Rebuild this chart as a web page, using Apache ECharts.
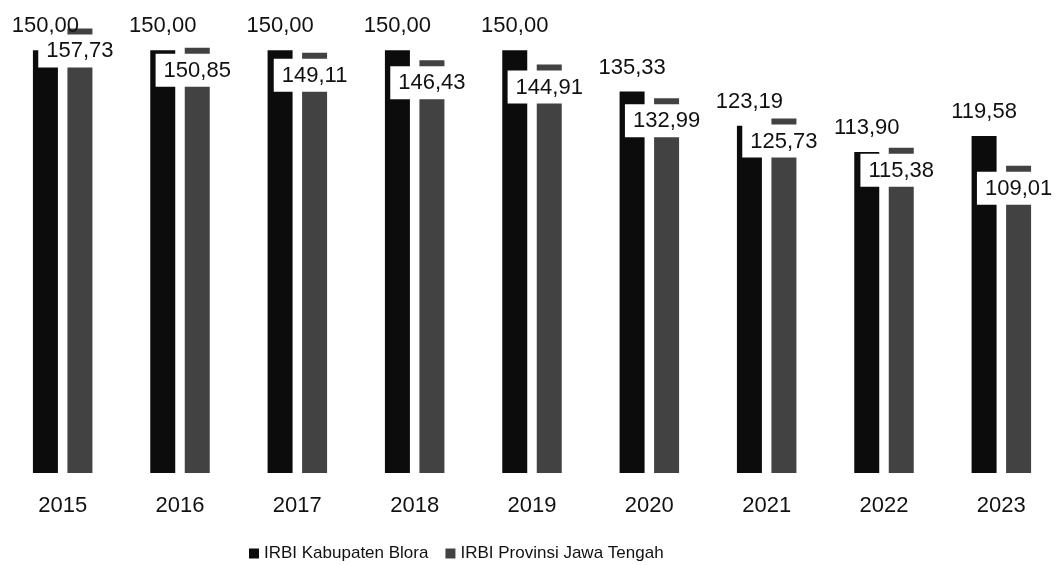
<!DOCTYPE html>
<html><head><meta charset="utf-8">
<script src="https://cdn.jsdelivr.net/npm/echarts@6/dist/echarts.min.js"></script>
<style>html,body{margin:0;padding:0;background:#fff}#c{width:1060px;height:565px}</style>
</head><body><div id="c"></div>
<script>
var categories = ['2015','2016','2017','2018','2019','2020','2021','2022','2023'];
var blora = [150.00,150.00,150.00,150.00,150.00,135.33,123.19,113.90,119.58];
var jateng = [157.73,150.85,149.11,146.43,144.91,132.99,125.73,115.38,109.01];
var seriesNames = ['IRBI Kabupaten Blora','IRBI Provinsi Jawa Tengah'];
function fmt(v){ return v.toFixed(2).replace('.', ','); }
var chart = echarts.init(document.getElementById('c'));
var font = '"Liberation Sans", Arial, sans-serif';
chart.setOption({
  animation:false,
  textStyle:{fontFamily:font},
  legend:{left:244,top:540,itemWidth:10,itemHeight:10,itemGap:17,icon:'rect',
    textStyle:{fontSize:17,color:'#111',fontFamily:font},data:seriesNames},
  grid:{left:4,width:1064,top:22,bottom:92,containLabel:false},
  xAxis:{type:'category',data:categories,axisLine:{show:false},axisTick:{show:false},
    axisLabel:{fontSize:22,color:'#111',margin:22,fontFamily:font}},
  yAxis:{type:'value',min:0,max:160,show:false,splitLine:{show:false}},
  series:[
    {name:seriesNames[0],type:'bar',data:blora,barWidth:25,barGap:'38%',
      itemStyle:{color:'#0c0c0c'},
      label:{show:true,position:'top',distance:13,fontSize:22,color:'#111',fontFamily:font,
        formatter:function(p){return fmt(p.value);}}},
    {name:seriesNames[1],type:'bar',data:jateng,barWidth:25,
      itemStyle:{color:'#424242'},
      label:{show:true,position:'insideTop',distance:6,fontSize:22,color:'#111',fontFamily:font,
        backgroundColor:'#fff',padding:[6,8,5,8],
        formatter:function(p){return fmt(p.value);}}}
  ]
});
</script></body></html>
